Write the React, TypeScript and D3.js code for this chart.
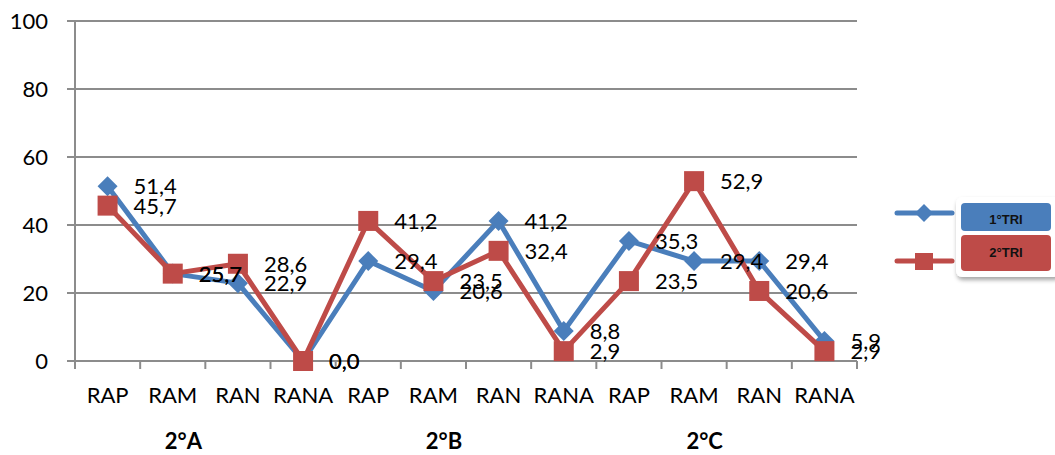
import React from "react";
import * as d3 from "d3";

const categories = ["RAP", "RAM", "RAN", "RANA", "RAP", "RAM", "RAN", "RANA", "RAP", "RAM", "RAN", "RANA"];
const groups = ["2°A", "2°B", "2°C"];
const tri1 = [51.4, 25.7, 22.9, 0.0, 29.4, 20.6, 41.2, 8.8, 35.3, 29.4, 29.4, 5.9];
const tri2 = [45.7, 25.7, 28.6, 0.0, 41.2, 23.5, 32.4, 2.9, 23.5, 52.9, 20.6, 2.9];
const yTicks = [0, 20, 40, 60, 80, 100];
const seriesNames = ["1°TRI", "2°TRI"];

const BLUE = "#4A7EBB";
const RED = "#BE4B48";
const GRID = "#8C8C8C";
const FONT = "Lato, 'Open Sans', sans-serif";

export default function App() {
  const W = 1055, H = 455;
  const left = 75, right = 857, top = 21, bottom = 361;
  const x = d3.scaleBand<number>().domain(d3.range(categories.length)).range([left, right]);
  const y = d3.scaleLinear().domain([0, 100]).range([bottom, top]);
  const cx = (i: number) => (x(i) as number) + x.bandwidth() / 2;
  const line = d3.line<number>().x((_, i) => cx(i)).y((d) => y(d));
  const fmt = (v: number) => v.toFixed(1).replace(".", ",");
  const bounds = d3.range(categories.length + 1).map((i) => left + i * x.bandwidth());

  return (
    <svg width={W} height={H} style={{ position: "absolute", left: 0, top: 0, background: "#fff" }} fontFamily={FONT}>
      <defs>
        <filter id="sh" x="-20%" y="-20%" width="150%" height="150%">
          <feDropShadow dx="1" dy="3" stdDeviation="2" floodColor="#000" floodOpacity="0.35" />
        </filter>
      </defs>
      {/* gridlines */}
      {yTicks.map((t) => (
        <line key={t} x1={left - 8} x2={right} y1={y(t)} y2={y(t)} stroke={GRID} strokeWidth={2} />
      ))}
      <line x1={left} x2={left} y1={top} y2={bottom + 8} stroke={GRID} strokeWidth={2} />
      {bounds.map((b, i) => (
        <line key={i} x1={b} x2={b} y1={bottom} y2={bottom + 8} stroke={GRID} strokeWidth={2} />
      ))}
      {yTicks.map((t) => (
        <text key={t} x={48} y={y(t)} dy="0.36em" textAnchor="end" fontSize={22} fill="#000">{t}</text>
      ))}
      {categories.map((c, i) => (
        <text key={i} x={cx(i)} y={395} dy="0.36em" textAnchor="middle" fontSize={22} fill="#000">{c}</text>
      ))}
      {groups.map((g, gi) => (
        <text key={g} x={bounds[gi * 4 + 2] - 22} y={441} dy="0.36em" textAnchor="middle" fontSize={22} fontWeight="bold" fill="#000">{g}</text>
      ))}
      {/* series */}
      <path d={line(tri1) || ""} fill="none" stroke={BLUE} strokeWidth={5} strokeLinejoin="round" />
      {tri1.map((v, i) => (
        <path key={i} d={`M${cx(i)},${y(v) - 10}L${cx(i) + 10},${y(v)}L${cx(i)},${y(v) + 10}L${cx(i) - 10},${y(v)}Z`} fill={BLUE} />
      ))}
      <path d={line(tri2) || ""} fill="none" stroke={RED} strokeWidth={5} strokeLinejoin="round" />
      {tri2.map((v, i) => (
        <rect key={i} x={cx(i) - 10} y={y(v) - 10} width={20} height={20} fill={RED} />
      ))}
      {tri1.map((v, i) => (
        <text key={"a" + i} x={cx(i) + 26} y={y(v)} dy="0.36em" fontSize={22} fill="#000">{fmt(v)}</text>
      ))}
      {tri2.map((v, i) => (
        <text key={"b" + i} x={cx(i) + 26} y={y(v)} dy="0.36em" fontSize={22} fill="#000">{fmt(v)}</text>
      ))}
      {/* legend */}
      <line x1={897} x2={952} y1={213} y2={213} stroke={BLUE} strokeWidth={5} strokeLinecap="round" />
      <path d="M924,204L933,213L924,222L915,213Z" fill={BLUE} />
      <line x1={897} x2={952} y1={261} y2={261} stroke={RED} strokeWidth={5} strokeLinecap="round" />
      <rect x={915} y={253} width={18} height={17} fill={RED} />
      <rect x={956} y={197} width={104} height={80} rx={6} fill="#fff" filter="url(#sh)" />
      <rect x={961} y={203} width={90} height={28} rx={4} fill={BLUE} />
      <rect x={961} y={235} width={90} height={36} rx={4} fill={RED} />
      <text x={1006} y={219} dy="0.36em" textAnchor="middle" fontSize={13} fontWeight={600} fontFamily="'Liberation Sans', Arial, sans-serif" fill="#111">{seriesNames[0]}</text>
      <text x={1006} y={252} dy="0.36em" textAnchor="middle" fontSize={13} fontWeight={600} fontFamily="'Liberation Sans', Arial, sans-serif" fill="#111">{seriesNames[1]}</text>
    </svg>
  );
}
